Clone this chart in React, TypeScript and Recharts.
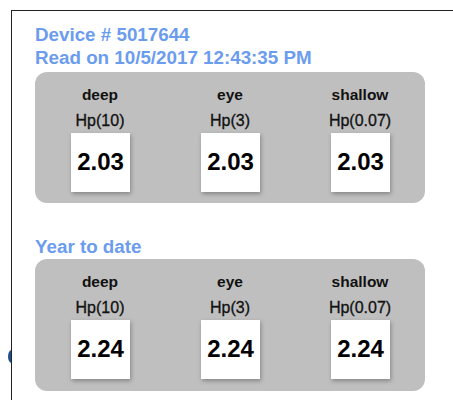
import React from 'react';
import { BarChart, Bar, XAxis, YAxis } from 'recharts';

const deviceId = '5017644';
const readTime = '10/5/2017 12:43:35 PM';
const categories = ['deep', 'eye', 'shallow'];
const metrics = ['Hp(10)', 'Hp(3)', 'Hp(0.07)'];
const readValues = [2.03, 2.03, 2.03];
const ytdValues = [2.24, 2.24, 2.24];

const FONT = "'Liberation Sans', Arial, Helvetica, sans-serif";
const BLUE = '#6b9cee';

const buildRows = (vals: number[]) =>
  categories.map((c, i) => ({ name: c, metric: metrics[i], value: vals[i] }));

const LabelTick = (props: any) => {
  const { x, y, payload, index } = props;
  return (
    <g>
      <text x={x} y={y - 33} textAnchor="middle" fontFamily={FONT} fontSize={15.5} fontWeight="bold" fill="#111">
        {payload.value}
      </text>
      <text x={x} y={y - 7} textAnchor="middle" fontFamily={FONT} fontSize={16} fill="#111" stroke="#111" strokeWidth={0.3}>
        {metrics[index]}
      </text>
    </g>
  );
};

const BoxShape = (props: any) => {
  const { x, y, width, height, value } = props;
  const bottom = y + height;
  const top = bottom - width;
  const v = Array.isArray(value) ? value[1] : value;
  return (
    <g>
      <rect
        x={x}
        y={top}
        width={width}
        height={width}
        fill="#ffffff"
        style={{ filter: 'drop-shadow(1px 2px 2px rgba(0,0,0,0.3))' }}
      />
      <text x={x + width / 2} y={top + 37} textAnchor="middle" fontFamily={FONT} fontSize={24} fontWeight="bold" fill="#000">
        {Number(v).toFixed(2)}
      </text>
    </g>
  );
};

const Panel = ({ vals, top, height }: { vals: number[]; top: number; height: number }) => (
  <div
    style={{
      position: 'absolute',
      left: 35,
      top,
      width: 390,
      height,
      background: '#bfbfbf',
      borderRadius: 12,
    }}
  >
    <BarChart
      width={390}
      height={height}
      data={buildRows(vals)}
      margin={{ top: 0, right: 0, bottom: height - 61 - 59, left: 0 }}
      barCategoryGap={0}
    >
      <XAxis
        dataKey="name"
        orientation="top"
        height={61}
        axisLine={false}
        tickLine={false}
        tickSize={0}
        tickMargin={0}
        interval={0}
        tick={<LabelTick />}
      />
      <YAxis hide domain={[0, 3]} />
      <Bar dataKey="value" barSize={59} isAnimationActive={false} shape={<BoxShape />} />
    </BarChart>
  </div>
);

const headStyle: React.CSSProperties = {
  position: 'absolute',
  left: 35,
  fontFamily: FONT,
  fontWeight: 'bold',
  fontSize: 18.8,
  lineHeight: '23px',
  color: BLUE,
  whiteSpace: 'nowrap',
  margin: 0,
};

export default function App() {
  return (
    <div
      style={{
        position: 'absolute',
        left: 0,
        top: 0,
        width: 453,
        height: 400,
        overflow: 'hidden',
        background: '#fff',
      }}
    >
      <div style={{ position: 'absolute', left: 8, top: 350, width: 4, height: 13, overflow: 'hidden' }}>
        <div style={{ width: 7, height: 13, borderRadius: '50%', background: '#1f4f8f' }} />
      </div>
      <div
        style={{
          position: 'absolute',
          left: 11,
          top: 10,
          width: 500,
          height: 500,
          borderTop: '1px solid #222',
          borderLeft: '1px solid #222',
        }}
      />
      <div style={{ ...headStyle, top: 23 }}>Device # {deviceId}</div>
      <div style={{ ...headStyle, top: 46 }}>Read on {readTime}</div>
      <Panel vals={readValues} top={72} height={131} />
      <div style={{ ...headStyle, top: 235 }}>Year to date</div>
      <Panel vals={ytdValues} top={259} height={132} />
    </div>
  );
}
